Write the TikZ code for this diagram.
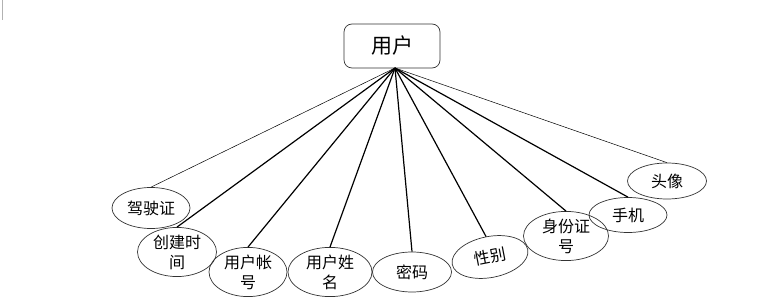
\documentclass[tikz,border=0pt]{standalone}
\usepackage{fontspec}
\setmainfont{Noto Sans CJK SC}
\usetikzlibrary{shapes.geometric}
\begin{document}
\begin{tikzpicture}[x=1pt,y=-1pt,
  ent/.style={draw=black!80,line width=0.7pt,rounded corners=8pt,minimum width=96pt,minimum height=44pt,inner sep=0pt,font=\fontsize{21}{23}\selectfont},
  attr/.style={ellipse,draw=black!80,line width=0.7pt,inner sep=0pt,align=center,font=\fontsize{16}{20}\selectfont},
  thick link/.style={line width=1.2pt},
  thin link/.style={line width=0.5pt}]
\useasboundingbox (0,0) rectangle (778,304);
\draw[black!30,line width=0.5pt] (2,0) -- (2,20);
\node[ent] (user) at (392,46) {用户};
\coordinate (hub) at (395,68);
\node[attr,minimum width=78pt,minimum height=41pt] (jsz) at (151,208) {驾驶证};
\node[attr,minimum width=79pt,minimum height=41pt] (cjsj) at (177,252) {创建时\\间};
\node[attr,minimum width=78pt,minimum height=40pt] (yhzh) at (248,272) {用户帐\\号};
\node[attr,minimum width=84pt,minimum height=41pt] (yhxm) at (330,272) {用户姓\\名};
\node[attr,minimum width=79pt,minimum height=40pt] (mm) at (412,272) {密码};
\node[attr,minimum width=77pt,minimum height=41pt,rotate=11] (xb) at (490,257) {性别};
\node[attr,minimum width=85pt,minimum height=36pt] (sfzh) at (566,236) {身份证\\号};
\node[attr,minimum width=78pt,minimum height=35pt] (sj) at (628,215) {手机};
\node[attr,minimum width=79pt,minimum height=36pt] (tx) at (667,181) {头像};
\draw[thin link] (hub) -- (jsz.north);
\draw[thick link] (hub) -- (cjsj.north);
\draw[thick link] (hub) -- (yhzh.north);
\draw[thick link] (hub) -- (yhxm.north);
\draw[thick link] (hub) -- (mm.north);
\draw[thick link] (hub) -- (xb.north);
\draw[thick link] (hub) -- (sfzh.north);
\draw[thick link] (hub) -- (sj.north);
\draw[thin link] (hub) -- (tx.north);
\end{tikzpicture}
\end{document}
